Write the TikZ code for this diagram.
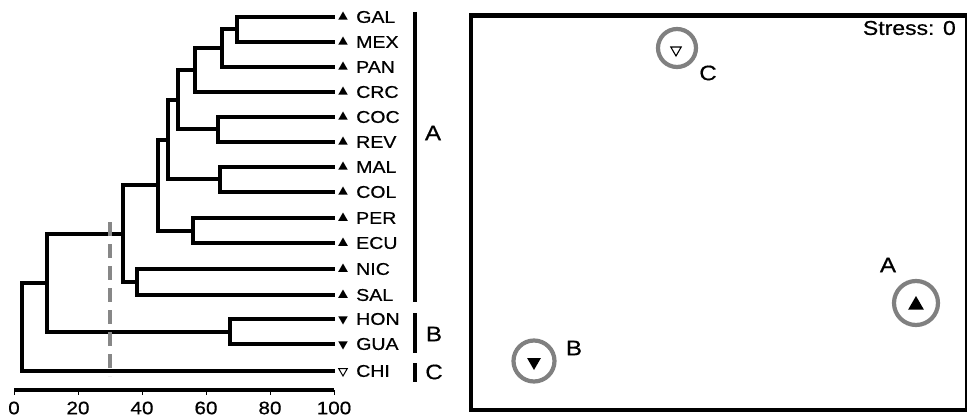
\documentclass[tikz,border=0pt]{standalone}
\usepackage{fontspec}
\setmainfont{Liberation Sans}[FakeStretch=1.15,FakeBold=0.6]
\usetikzlibrary{shapes.geometric}
\definecolor{cutgray}{RGB}{135,135,135}
\definecolor{ringgray}{RGB}{128,128,128}
\tikzset{
  branch/.style={line width=4pt, line cap=rect},
  leaflabel/.style={anchor=west, inner sep=0pt, font=\fontsize{17}{20}\selectfont},
  grouplabel/.style={inner sep=0pt, font=\fontsize{21}{24}\selectfont},
  axlabel/.style={inner sep=0pt, font=\fontsize{18}{21}\selectfont},
  groupbar/.style={line width=4.5pt},
  triup/.style={regular polygon, regular polygon sides=3, fill=black, inner sep=0pt, minimum size=11pt},
  tridown/.style={triup, shape border rotate=180},
  triopen/.style={regular polygon, regular polygon sides=3, shape border rotate=180, draw=black, line width=1pt, fill=white, inner sep=0pt, minimum size=10pt},
  ring/.style={circle, draw=ringgray, line width=4.2pt, inner sep=0pt},
}
\begin{document}
\begin{tikzpicture}[x=1pt,y=-1pt]
\useasboundingbox (0,0) rectangle (967,417);
% leaves: end of branch, marker, label
\foreach \n/\y in {GAL/17,MEX/42,PAN/67,CRC/92,COC/117,REV/142,MAL/167,COL/192,PER/218,ECU/243,NIC/269,SAL/295}{
  \coordinate (\n) at (333,\y);
  \node[triup] (\n m) at (343,\y) {};
  \node[leaflabel] (\n t) at (356,\y) {\n};
}
\foreach \n/\y in {HON/319,GUA/344}{
  \coordinate (\n) at (333,\y);
  \node[tridown] (\n m) at (343,\y) {};
  \node[leaflabel] (\n t) at (356,\y) {\n};
}
\coordinate (CHI) at (333,371);
\node[triopen] (CHIm) at (343,371) {};
\node[leaflabel] (CHIt) at (356,371) {CHI};
% internal nodes
\coordinate (gm)   at (237,29.5);
\coordinate (gmp)  at (222,48.25);
\coordinate (gmpc) at (195,70.1);
\coordinate (cr)   at (218,129.5);
\coordinate (g1)   at (178,99.8);
\coordinate (mc)   at (220,179.5);
\coordinate (g2)   at (168,139.7);
\coordinate (pe)   at (193,230.5);
\coordinate (g3)   at (158,185.1);
\coordinate (ns)   at (137,282);
\coordinate (gA)   at (123,233.5);
\coordinate (hg)   at (230,331.5);
\coordinate (gAB)  at (47,282.5);
\coordinate (root) at (22,326.75);
% branches
\draw[branch] (gm) |- (GAL); \draw[branch] (gm) |- (MEX);
\draw[branch] (gmp) |- (gm); \draw[branch] (gmp) |- (PAN);
\draw[branch] (gmpc) |- (gmp); \draw[branch] (gmpc) |- (CRC);
\draw[branch] (cr) |- (COC); \draw[branch] (cr) |- (REV);
\draw[branch] (g1) |- (gmpc); \draw[branch] (g1) |- (cr);
\draw[branch] (mc) |- (MAL); \draw[branch] (mc) |- (COL);
\draw[branch] (g2) |- (g1); \draw[branch] (g2) |- (mc);
\draw[branch] (pe) |- (PER); \draw[branch] (pe) |- (ECU);
\draw[branch] (g3) |- (g2); \draw[branch] (g3) |- (pe);
\draw[branch] (ns) |- (NIC); \draw[branch] (ns) |- (SAL);
\draw[branch] (gA) |- (g3); \draw[branch] (gA) |- (ns);
\draw[branch] (hg) |- (HON); \draw[branch] (hg) |- (GUA);
\draw[branch] (gAB) |- (gA); \draw[branch] (gAB) |- (hg);
\draw[branch] (root) |- (gAB); \draw[branch] (root) |- (CHI);
% cut line
\coordinate (cutT) at (110,222);
\coordinate (cutB) at (110,376);
\draw[cutgray, line width=4.5pt, dash pattern=on 14pt off 8pt] (cutT) -- (cutB);
% group bars
\coordinate (aT) at (415,12);  \coordinate (aB) at (415,302);
\coordinate (bT) at (415,313); \coordinate (bB) at (415,353);
\coordinate (cT) at (415,363); \coordinate (cB) at (415,382);
\draw[groupbar] (aT) -- (aB);
\draw[groupbar] (bT) -- (bB);
\draw[groupbar] (cT) -- (cB);
\node[grouplabel] (Alab) at (433,133) {A};
\node[grouplabel] (Blab) at (434,334) {B};
\node[grouplabel] (Clab) at (434,372) {C};
% axis
\coordinate (ax0) at (14,390);
\coordinate (ax1) at (334,390);
\draw[line width=3.5pt] (ax0) -- (ax1);
\foreach \v in {0,20,40,60,80,100}{
  \coordinate (t\v) at ({14+3.2*\v},390);
  \draw[line width=0.8pt] (t\v) -- ++(0,5);
  \node[axlabel] (l\v) at ({14+3.2*\v},408) {\v};
}
% MDS panel
\node[draw, line width=4.5pt, minimum width=496pt, minimum height=394pt, inner sep=0pt, anchor=north west] (panel) at (468.5,13.5) {};
\node[anchor=east, inner sep=0pt, font=\fontsize{20}{23}\selectfont] (stress) at (956,28) {Stress: 0};
\node[ring, minimum size=38pt] (rC) at (677,48) {};
\node[regular polygon, regular polygon sides=3, shape border rotate=180, draw=black, line width=1.1pt, inner sep=0pt, minimum size=12pt] (mC) at (676,50) {};
\node[grouplabel] (tC) at (708,73) {C};
\node[ring, minimum size=44pt] (rA) at (916,303) {};
\node[triup, minimum size=18pt] (mA) at (916,305) {};
\node[grouplabel] (tA) at (888,265) {A};
\node[ring, minimum size=41pt] (rB) at (534,361) {};
\node[tridown, minimum size=16pt] (mB) at (534,362) {};
\node[grouplabel] (tB) at (574,348) {B};
\end{tikzpicture}
\end{document}
